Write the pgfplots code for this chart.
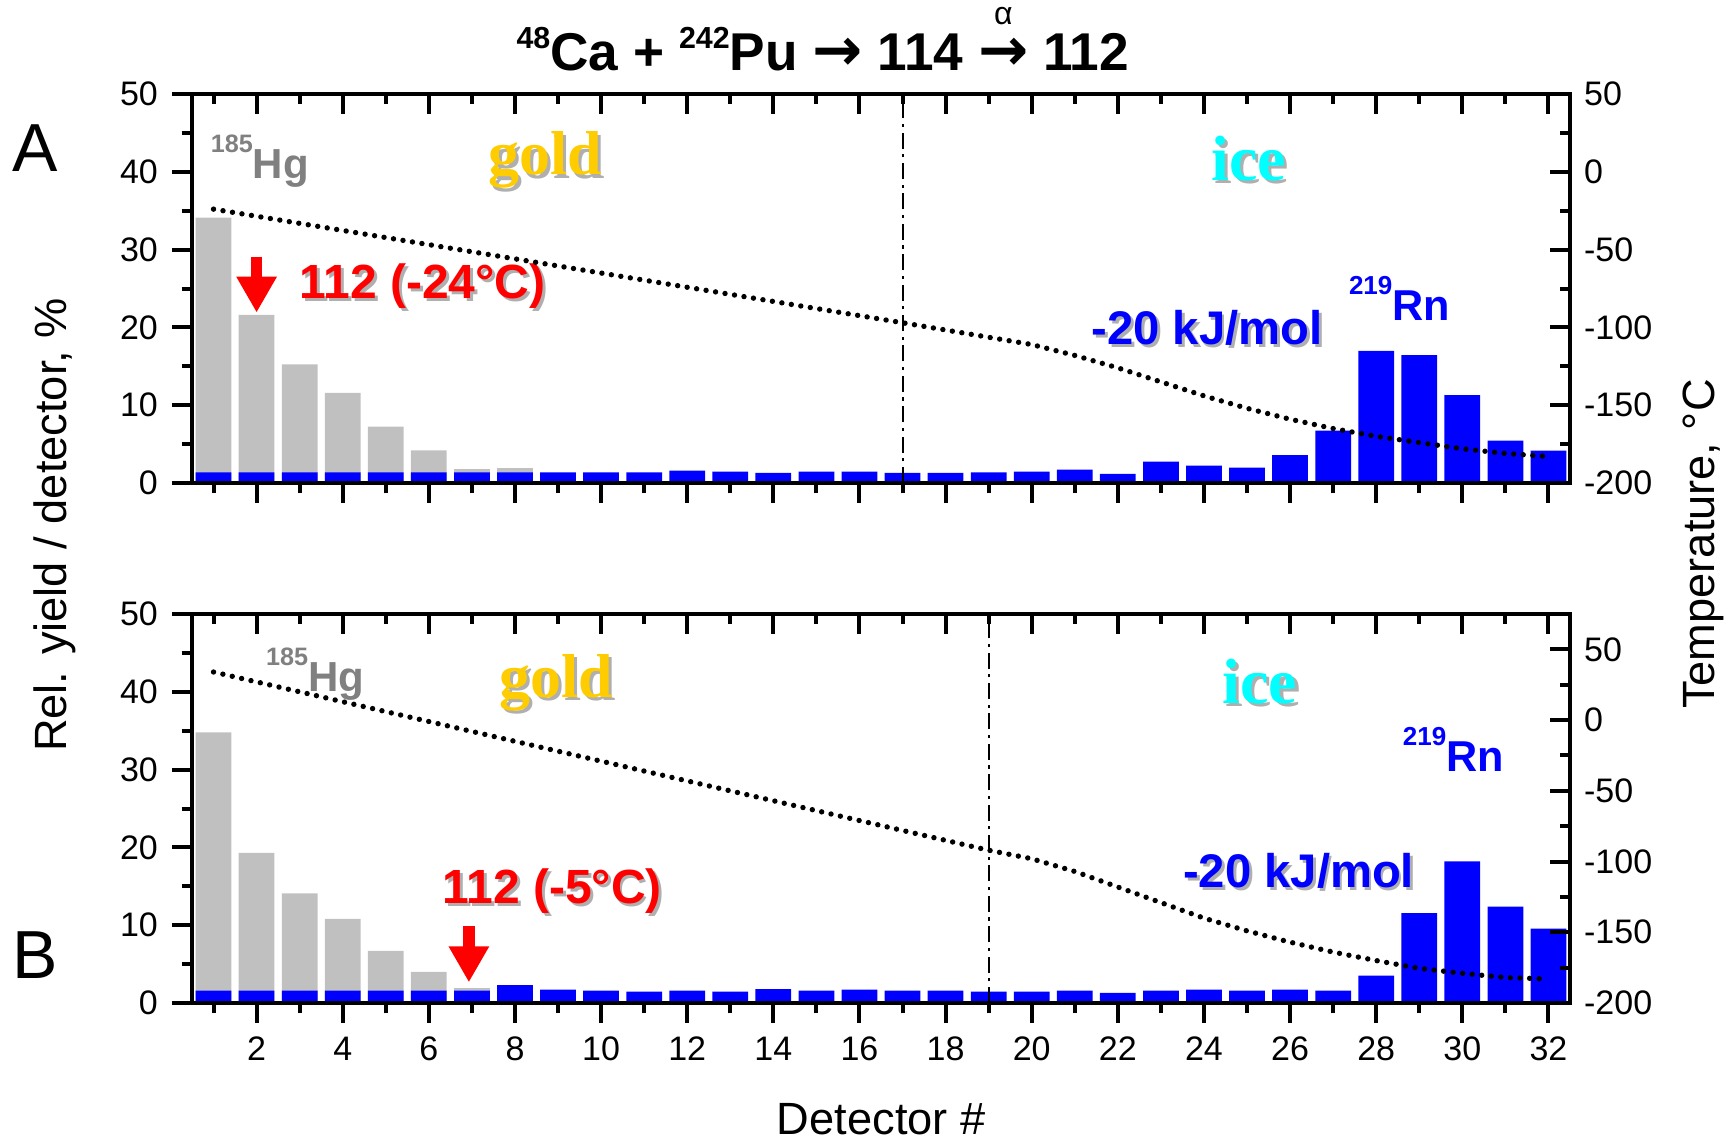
\documentclass[border=0pt]{standalone}
\usepackage{fontspec}
\setmainfont{Liberation Sans}
\newfontfamily\serifb{Liberation Serif}
\newfontfamily\arrowfont{DejaVu Sans}
\usepackage{pgfplots}
\pgfplotsset{compat=1.18}
\usetikzlibrary{arrows.meta}

\definecolor{barblue}{RGB}{0,0,255}
\definecolor{bargray}{RGB}{192,192,192}
\definecolor{goldc}{RGB}{255,204,0}
\definecolor{icec}{RGB}{0,255,255}
\definecolor{hggray}{RGB}{128,128,128}
\definecolor{shadowc}{RGB}{175,175,175}

\newcommand{\fs}[1]{\fontsize{#1}{#1}\selectfont}
\newsavebox\arr

\pgfplotsset{
  base/.style={
    scale only axis, width=344.5pt, height=97.25pt,
    xmin=0.5, xmax=32.5,
    xtick={2,4,...,32}, minor xtick={1,3,...,31},
    axis line style={line width=1pt},
    major tick length=5pt, minor tick length=2.6pt,
    every tick/.style={line width=1pt, black},
    every minor tick/.style={line width=1pt, black},
    tick label style={font=\fs{8.5}},
    /pgf/number format/assume math mode=true,
    clip=false,
  },
}

\begin{document}
\sbox\arr{\arrowfont\bfseries\fs{15}→}%
\begin{tikzpicture}
\useasboundingbox (0,0) rectangle (433.5pt,285pt);

% ================= Panel A =================
\begin{axis}[base, at={(48pt,164.25pt)}, anchor=south west,
  ymin=0, ymax=50, ytick={0,10,...,50}, minor ytick={5,15,...,45},
  xtick pos=left, ytick pos=left, tick align=outside, xticklabels={}]
\addplot[ybar, bar width=0.83, bar shift=0pt, fill=bargray, draw=none]
 coordinates {(1,34.1) (2,21.6) (3,15.25) (4,11.6) (5,7.24) (6,4.2) (7,1.8) (8,1.9)};
\addplot[ybar, bar width=0.83, bar shift=0pt, fill=barblue, draw=none]
 coordinates {(1,1.37) (2,1.37) (3,1.37) (4,1.37) (5,1.37) (6,1.37) (7,1.37) (8,1.37)
 (9,1.37) (10,1.37) (11,1.37) (12,1.59) (13,1.46) (14,1.29) (15,1.46) (16,1.46)
 (17,1.29) (18,1.29) (19,1.37) (20,1.46) (21,1.71) (22,1.16) (23,2.74) (24,2.23)
 (25,1.97) (26,3.6) (27,6.73) (28,16.97) (29,16.45) (30,11.3) (31,5.44) (32,4.16)};
% labels
\node[anchor=base west, inner sep=0, text=hggray, font=\bfseries] at (axis cs:0.92,39.1)
 {\raisebox{6.5pt}{\fs{6.3}185}\fs{10.5}Hg};
\node[anchor=base, inner sep=0, text=shadowc, font=\serifb\bfseries\fs{15.5}] at ([xshift=0.8pt,yshift=-0.8pt]axis cs:8.7,39.6) {gold};
\node[anchor=base, inner sep=0, text=goldc, font=\serifb\bfseries\fs{15.5}] at (axis cs:8.7,39.6) {gold};
\node[anchor=base, inner sep=0, text=shadowc, font=\serifb\bfseries\fs{16}] at ([xshift=0.8pt,yshift=-0.8pt]axis cs:25.04,38.9) {ice};
\node[anchor=base, inner sep=0, text=icec, font=\serifb\bfseries\fs{16}] at (axis cs:25.04,38.9) {ice};
\node[anchor=base west, inner sep=0, text=shadowc, font=\bfseries\fs{12}] at ([xshift=0.7pt,yshift=-0.7pt]axis cs:2.98,23.7) {112 (-24°C)};
\node[anchor=base west, inner sep=0, text=red, font=\bfseries\fs{12}] at (axis cs:2.98,23.7) {112 (-24°C)};
\node[anchor=base, inner sep=0, text=shadowc, font=\bfseries\fs{11.8}] at ([xshift=0.7pt,yshift=-0.7pt]axis cs:24.07,17.8) {-20 kJ/mol};
\node[anchor=base, inner sep=0, text=barblue, font=\bfseries\fs{11.8}] at (axis cs:24.07,17.8) {-20 kJ/mol};
\node[anchor=base west, inner sep=0, text=barblue, font=\bfseries] at (axis cs:27.35,20.9)
 {\raisebox{6.5pt}{\fs{6.5}219}\fs{10.8}Rn};
\draw[red, line width=2.9pt, -{Triangle[width=9.5pt,length=9pt]}] (axis cs:2,29.1) -- (axis cs:2,21.9);
\end{axis}

\begin{axis}[base, at={(48pt,164.25pt)}, anchor=south west,
  ymin=-200, ymax=50, ytick={-200,-150,...,50}, minor ytick={-175,-125,...,25},
  xtick pos=right, ytick pos=right, tick align=inside, xticklabels={}]
\addplot[black, line width=0.5pt, dash pattern=on 4pt off 1.4pt on 0.8pt off 1.4pt]
 coordinates {(17,-200) (17,50)};
\addplot[black, line width=1.35pt, dash pattern=on 0pt off 2.4pt, line cap=round]
 coordinates {(1,-24) (17,-97) (20,-111) (21,-118) (22,-126) (23,-135) (24,-144)
 (25,-152) (26,-159) (27,-165) (28,-170) (29,-174) (30,-178) (31,-181) (32,-183)};
\end{axis}

% ================= Panel B =================
\begin{axis}[base, at={(48pt,34.25pt)}, anchor=south west,
  ymin=0, ymax=50, ytick={0,10,...,50}, minor ytick={5,15,...,45},
  xtick pos=left, ytick pos=left, tick align=outside]
\addplot[ybar, bar width=0.83, bar shift=0pt, fill=bargray, draw=none]
 coordinates {(1,34.8) (2,19.3) (3,14.1) (4,10.8) (5,6.7) (6,4.0) (7,1.93)};
\addplot[ybar, bar width=0.83, bar shift=0pt, fill=barblue, draw=none]
 coordinates {(1,1.59) (2,1.59) (3,1.59) (4,1.59) (5,1.59) (6,1.59) (7,1.59) (8,2.31)
 (9,1.71) (10,1.59) (11,1.46) (12,1.59) (13,1.46) (14,1.8) (15,1.59) (16,1.71)
 (17,1.59) (18,1.59) (19,1.46) (20,1.46) (21,1.59) (22,1.29) (23,1.59) (24,1.71)
 (25,1.59) (26,1.71) (27,1.59) (28,3.51) (29,11.57) (30,18.2) (31,12.4) (32,9.55)};
\node[anchor=base west, inner sep=0, text=hggray, font=\bfseries] at (axis cs:2.2,40.1)
 {\raisebox{6.5pt}{\fs{6.3}185}\fs{10.5}Hg};
\node[anchor=base, inner sep=0, text=shadowc, font=\serifb\bfseries\fs{15.5}] at ([xshift=0.8pt,yshift=-0.8pt]axis cs:8.95,39.3) {gold};
\node[anchor=base, inner sep=0, text=goldc, font=\serifb\bfseries\fs{15.5}] at (axis cs:8.95,39.3) {gold};
\node[anchor=base, inner sep=0, text=shadowc, font=\serifb\bfseries\fs{16}] at ([xshift=0.8pt,yshift=-0.8pt]axis cs:25.3,38.5) {ice};
\node[anchor=base, inner sep=0, text=icec, font=\serifb\bfseries\fs{16}] at (axis cs:25.3,38.5) {ice};
\node[anchor=base west, inner sep=0, text=shadowc, font=\bfseries\fs{12}] at ([xshift=0.7pt,yshift=-0.7pt]axis cs:6.3,12.8) {112 (-5°C)};
\node[anchor=base west, inner sep=0, text=red, font=\bfseries\fs{12}] at (axis cs:6.3,12.8) {112 (-5°C)};
\node[anchor=base, inner sep=0, text=shadowc, font=\bfseries\fs{11.8}] at ([xshift=0.7pt,yshift=-0.7pt]axis cs:26.2,14.8) {-20 kJ/mol};
\node[anchor=base, inner sep=0, text=barblue, font=\bfseries\fs{11.8}] at (axis cs:26.2,14.8) {-20 kJ/mol};
\node[anchor=base west, inner sep=0, text=barblue, font=\bfseries] at (axis cs:28.6,29.8)
 {\raisebox{6.5pt}{\fs{6.5}219}\fs{10.8}Rn};
\draw[red, line width=2.9pt, -{Triangle[width=9.5pt,length=9pt]}] (axis cs:6.93,9.9) -- (axis cs:6.93,2.66);
\end{axis}

\begin{axis}[base, at={(48pt,34.25pt)}, anchor=south west,
  ymin=-200, ymax=75, ytick={-200,-150,...,50}, minor ytick={-175,-125,...,75},
  xtick pos=right, ytick pos=right, tick align=inside, xticklabels={}]
\addplot[black, line width=0.5pt, dash pattern=on 4pt off 1.4pt on 0.8pt off 1.4pt]
 coordinates {(19,-200) (19,75)};
\addplot[black, line width=1.35pt, dash pattern=on 0pt off 2.4pt, line cap=round]
 coordinates {(1,34) (19,-92) (20,-98) (21,-107) (22,-118) (23,-129) (24,-140)
 (25,-149) (26,-157) (27,-164) (28,-170) (29,-175.5) (30,-179) (31,-182) (32,-183)};
\end{axis}

% ================= Outer text =================
\node[anchor=base, inner sep=0, font=\bfseries\fs{13.3}] at (205.7pt,267.5pt)
 {\raisebox{5.3pt}{\fs{7.6}48}Ca + \raisebox{5.3pt}{\fs{7.6}242}Pu \usebox\arr{} 114 \rlap{\makebox[\wd\arr][c]{\raisebox{11.3pt}{\mdseries\fs{8}α}}}\usebox\arr{} 112};
\node[anchor=base, inner sep=0, font=\fs{17}] at (8.8pt,242.1pt) {A};
\node[anchor=base, inner sep=0, font=\fs{17}] at (8.8pt,40.5pt) {B};
\node[rotate=90, inner sep=0, font=\fs{11.3}] at (13.75pt,153.75pt) {Rel. yield / detector, \%};
\node[rotate=90, inner sep=0, font=\fs{11.3}] at (425.8pt,149pt) {Temperature, °C};
\node[inner sep=0, font=\fs{11.3}] at (220.3pt,5.25pt) {Detector \#};
\end{tikzpicture}
\end{document}
